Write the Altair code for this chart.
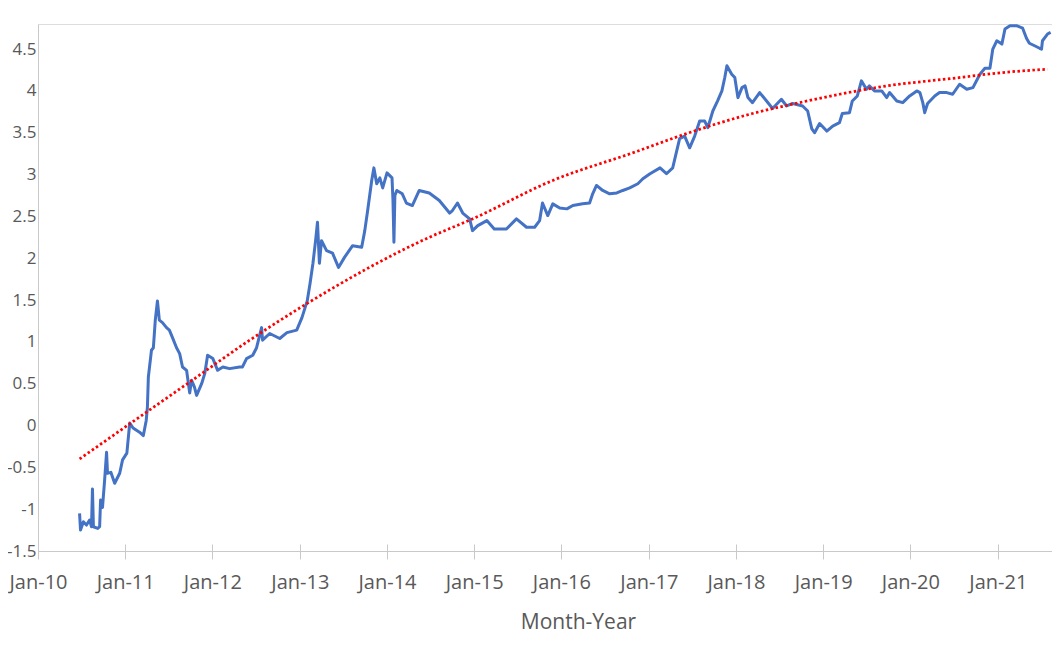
import altair as alt
import pandas as pd

# Daily series (log10 of price), grouped by year
dates_2010 = ["2010-06-24","2010-06-28","2010-07-10","2010-07-23","2010-08-05","2010-08-13","2010-08-17","2010-08-21","2010-09-08","2010-09-16","2010-09-20","2010-09-28","2010-10-07","2010-10-15","2010-10-19","2010-11-02","2010-11-18","2010-12-09","2010-12-21"]
vals_2010 = [-1.05,-1.25,-1.15,-1.19,-1.13,-1.21,-0.76,-1.21,-1.23,-1.21,-0.89,-0.98,-0.65,-0.32,-0.57,-0.56,-0.69,-0.57,-0.41]

dates_2011 = ["2011-01-08","2011-01-20","2011-02-03","2011-03-02","2011-03-18","2011-03-30","2011-04-04","2011-04-08","2011-04-21","2011-04-29","2011-05-07","2011-05-16","2011-05-24","2011-06-06","2011-06-23","2011-07-05","2011-07-18","2011-08-04","2011-08-17","2011-08-29","2011-09-15","2011-09-28","2011-10-06","2011-10-18","2011-10-27","2011-11-17","2011-11-30","2011-12-12"]
vals_2011 = [-0.33,0.03,-0.03,-0.08,-0.12,0.06,0.22,0.58,0.90,0.93,1.26,1.49,1.26,1.23,1.17,1.14,1.05,0.93,0.86,0.70,0.66,0.39,0.54,0.46,0.36,0.50,0.62,0.84]

dates_2012 = ["2012-01-03","2012-01-23","2012-02-14","2012-03-13","2012-04-24","2012-05-06","2012-05-23","2012-06-18","2012-07-04","2012-07-25","2012-07-29","2012-08-28","2012-10-09","2012-11-08","2012-12-19"]
vals_2012 = [0.80,0.66,0.70,0.68,0.70,0.70,0.80,0.84,0.93,1.17,1.02,1.10,1.04,1.11,1.14]

dates_2013 = ["2013-01-10","2013-02-01","2013-02-13","2013-02-25","2013-03-08","2013-03-16","2013-03-24","2013-04-02","2013-04-23","2013-05-18","2013-06-12","2013-07-07","2013-08-10","2013-09-17","2013-09-30","2013-10-12","2013-10-29","2013-11-07","2013-11-19","2013-12-02","2013-12-14"]
vals_2013 = [1.29,1.49,1.70,1.94,2.21,2.43,1.94,2.21,2.09,2.06,1.89,2.01,2.15,2.13,2.33,2.57,2.93,3.08,2.89,2.96,2.84]

dates_2014 = ["2014-01-01","2014-01-22","2014-01-26","2014-01-30","2014-02-03","2014-02-11","2014-03-06","2014-03-23","2014-04-17","2014-05-16","2014-06-27","2014-08-08","2014-09-20","2014-10-02","2014-10-23","2014-11-14","2014-12-13","2014-12-25"]
vals_2014 = [3.02,2.96,2.69,2.19,2.75,2.81,2.77,2.66,2.63,2.81,2.78,2.69,2.54,2.57,2.66,2.54,2.47,2.33]

dates_2015 = ["2015-01-16","2015-02-23","2015-03-26","2015-05-16","2015-06-27","2015-08-08","2015-09-11","2015-10-02","2015-10-14","2015-11-05","2015-11-26","2015-12-25"]
vals_2015 = [2.39,2.45,2.35,2.35,2.47,2.37,2.37,2.45,2.66,2.51,2.65,2.60]

dates_2016 = ["2016-01-24","2016-02-18","2016-03-30","2016-04-28","2016-05-11","2016-05-27","2016-06-22","2016-07-21","2016-08-20","2016-09-14","2016-10-13","2016-11-16","2016-12-07"]
vals_2016 = [2.59,2.63,2.65,2.66,2.77,2.87,2.81,2.77,2.78,2.81,2.84,2.89,2.95]

dates_2017 = ["2017-01-06","2017-02-17","2017-03-16","2017-04-11","2017-05-10","2017-05-31","2017-06-21","2017-07-12","2017-08-02","2017-08-23","2017-09-05","2017-09-26","2017-10-16","2017-11-03","2017-11-15","2017-11-24","2017-12-14","2017-12-27"]
vals_2017 = [3.01,3.08,3.01,3.08,3.43,3.46,3.32,3.46,3.64,3.64,3.56,3.76,3.88,4.00,4.16,4.30,4.20,4.16]

dates_2018 = ["2018-01-09","2018-01-26","2018-02-08","2018-02-20","2018-03-11","2018-04-10","2018-05-09","2018-06-03","2018-07-10","2018-08-01","2018-08-26","2018-10-07","2018-10-28","2018-11-14","2018-11-26","2018-12-17"]
vals_2018 = [3.92,4.04,4.06,3.92,3.86,3.98,3.88,3.79,3.90,3.82,3.85,3.82,3.76,3.55,3.50,3.61]

dates_2019 = ["2019-01-16","2019-02-10","2019-03-10","2019-03-22","2019-04-21","2019-05-03","2019-05-24","2019-06-10","2019-07-01","2019-07-13","2019-08-04","2019-09-03","2019-09-24","2019-10-06","2019-11-05","2019-11-30","2019-12-29"]
vals_2019 = [3.52,3.58,3.62,3.73,3.74,3.88,3.94,4.12,4.02,4.06,4.00,4.00,3.92,3.98,3.88,3.86,3.94]

dates_2020 = ["2020-01-28","2020-02-10","2020-02-22","2020-03-01","2020-03-13","2020-04-12","2020-05-02","2020-06-01","2020-06-26","2020-07-25","2020-08-24","2020-09-19","2020-10-18","2020-11-08","2020-11-29","2020-12-11","2020-12-28"]
vals_2020 = [4.00,3.98,3.86,3.74,3.85,3.94,3.98,3.98,3.96,4.08,4.02,4.04,4.20,4.27,4.27,4.50,4.60]

dates_2021 = ["2021-01-18","2021-01-31","2021-02-21","2021-03-20","2021-04-15","2021-05-01","2021-05-13","2021-06-04","2021-06-25","2021-07-03","2021-07-07","2021-07-28","2021-08-10"]
vals_2021 = [4.56,4.74,4.78,4.78,4.75,4.63,4.57,4.54,4.51,4.50,4.60,4.68,4.70]

# Polynomial trend line (red dotted)
trend_dates = ["2010-06-24","2011-01-20","2011-09-28","2012-06-05","2013-02-01","2014-06-27",
               "2014-12-25","2015-11-26","2016-10-26","2017-06-08","2018-03-11","2018-09-24",
               "2019-03-10","2019-09-24","2020-06-26","2021-01-22","2021-07-28"]
trend_vals = [-0.40, 0.02, 0.52, 1.02, 1.46, 2.25, 2.47, 2.93, 3.26, 3.49, 3.73, 3.86,
              3.96, 4.06, 4.15, 4.22, 4.26]

y_ticks = [-1.5, -1, -0.5, 0, 0.5, 1, 1.5, 2, 2.5, 3, 3.5, 4, 4.5]
x_tick_years = list(range(2010, 2022))

all_dates = (dates_2010 + dates_2011 + dates_2012 + dates_2013 + dates_2014 + dates_2015
             + dates_2016 + dates_2017 + dates_2018 + dates_2019 + dates_2020 + dates_2021)
all_vals = (vals_2010 + vals_2011 + vals_2012 + vals_2013 + vals_2014 + vals_2015
            + vals_2016 + vals_2017 + vals_2018 + vals_2019 + vals_2020 + vals_2021)
df = pd.DataFrame({"date": all_dates, "value": all_vals})
df_trend = pd.DataFrame({"date": trend_dates, "value": trend_vals})

FONT = "Open Sans"
GRAY = "#595959"
AXIS_LINE = "#C9C9C9"

x_scale = alt.Scale(domain=[alt.DateTime(year=2010, month=1, date=1),
                            alt.DateTime(year=2022, month=1, date=1)],
                    range=[0, 1047])
y_scale = alt.Scale(domain=[-1.5, 4.8], nice=False, zero=False)
tick_vals = [alt.DateTime(year=y, month=1, date=1) for y in x_tick_years]

y_axis = alt.Axis(values=y_ticks, labelExpr="'' + datum.value", title=None,
                  grid=False, ticks=False, domainColor=AXIS_LINE, labelFlush=False,
                  labelFont=FONT, labelFontSize=17, labelColor=GRAY,
                  labelPadding=2)

line = alt.Chart(df).mark_line(color="#4472C4", strokeWidth=3, strokeJoin="round").encode(
    x=alt.X("date:T", scale=x_scale,
            axis=alt.Axis(values=tick_vals, format="%b-%y", title="Month-Year",
                          grid=False, domainColor=AXIS_LINE, tickColor=AXIS_LINE,
                          tickSize=8, labelFont=FONT, labelFontSize=20, labelColor=GRAY,
                          labelPadding=13, labelFlush=False, labelOverlap=False,
                          titleFont=FONT, titleFontSize=21,
                          titleFontWeight="normal", titleColor=GRAY,
                          titleBaseline="middle", titleX=540, titleY=71)),
    y=alt.Y("value:Q", scale=y_scale, axis=y_axis),
)

trend = alt.Chart(df_trend).mark_line(
    color="#FF0000", strokeWidth=2.75, strokeDash=[2.5, 2.5], interpolate="monotone"
).encode(
    x=alt.X("date:T", scale=x_scale,
            axis=alt.Axis(values=tick_vals, orient="top", offset=-527, labels=False,
                          domain=False, grid=False, tickColor=AXIS_LINE, tickSize=7,
                          title=None)),
    y=alt.Y("value:Q", scale=y_scale, axis=y_axis),
)

chart = alt.layer(line, trend).resolve_axis(x="independent").properties(
    width=1014, height=527,
    autosize=alt.AutoSizeParams(type="none"),
    padding={"left": 30, "top": 16, "right": 0, "bottom": 85},
).configure_view(strokeWidth=0).configure(background="white")

chart.save("out.html", embed_options={"renderer": "svg", "actions": False})
